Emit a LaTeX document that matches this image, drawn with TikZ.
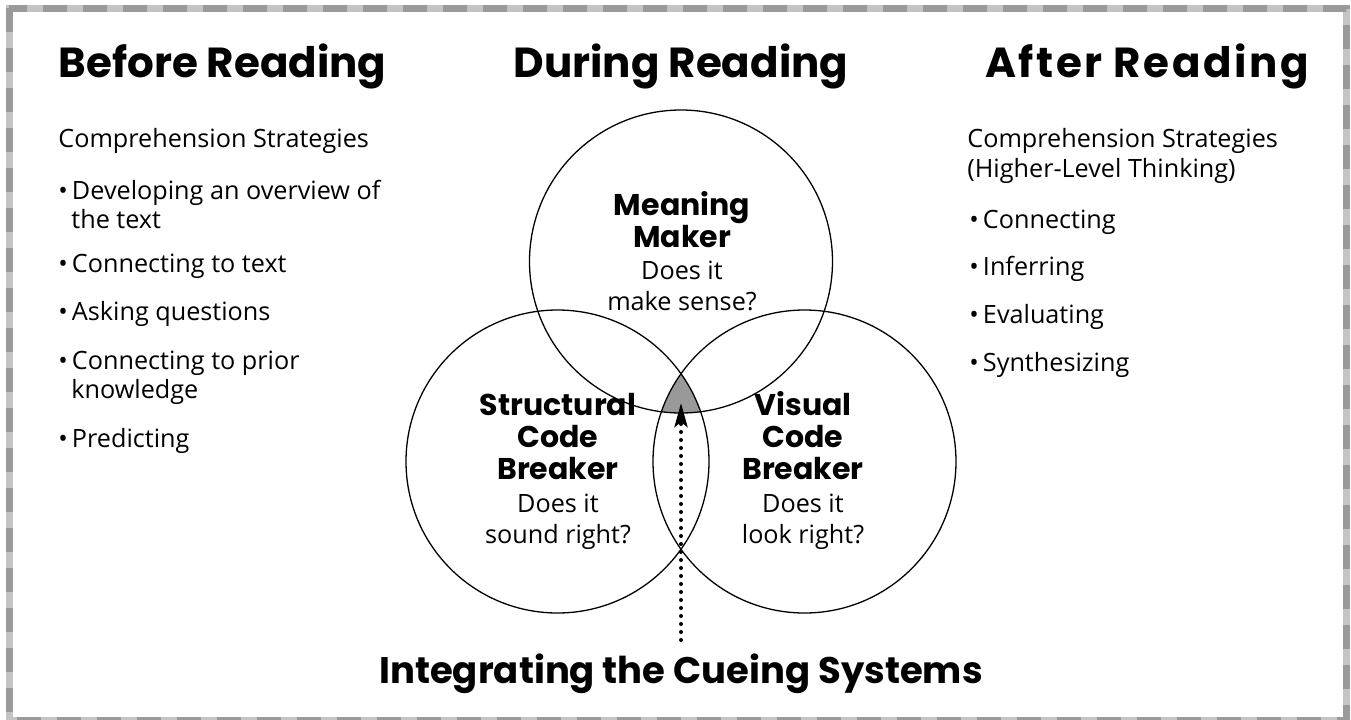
\documentclass[tikz,border=0pt]{standalone}
\usepackage{fontspec}
\setmainfont{Open Sans}
\newfontfamily\headfont{Poppins}
\usetikzlibrary{arrows.meta}

\definecolor{rimdark}{HTML}{9A9A9A}
\definecolor{rimlight}{HTML}{C4C4C4}
\definecolor{overlap}{HTML}{999999}

\newcommand\itemdot{\makebox[6.8pt][l]{\textbullet}}

\tikzset{
  heading/.style={anchor=base, inner sep=0pt, font=\headfont\bfseries\fontsize{21}{24}\selectfont},
  cue/.style={anchor=base, inner sep=0pt, font=\headfont\bfseries\fontsize{15}{17}\selectfont},
  body/.style={anchor=base west, inner sep=0pt, font=\fontsize{12.6}{15}\selectfont},
  ask/.style={anchor=base, inner sep=0pt, font=\fontsize{12.6}{15}\selectfont},
  venn/.style={draw, circle, minimum size=151.5pt, inner sep=0pt, line width=0.65pt},
}

\begin{document}
\begin{tikzpicture}[x=0.5pt, y=-0.5pt]
    \useasboundingbox (0,0) rectangle (1351,719);
    % frame
    \draw[rimlight, line width=3.5pt] (9,8) rectangle (1346,720);
    \draw[rimdark, line width=3.5pt, dash pattern=on 12pt off 8pt] (9,8) rectangle (1346,720);

    % shaded core
    \begin{scope}
        \clip (681,261.5) circle (151.5);
        \clip (557.5,461.5) circle (151.5);
        \fill[overlap] (804.5,461.5) circle (151.5);
    \end{scope}

    \draw (681,261.5) node[venn] (meaning) {};
    \draw (557.5,461.5) node[venn] (structural) {};
    \draw (804.5,461.5) node[venn] (visual) {};

    \draw (222.5,77) node[heading] (before) {Before Reading};
    \draw (681,77) node[heading] (during) {During Reading};
    \draw (1147,77) node[heading] (after) {\addfontfeatures{LetterSpace=6}After Reading};

    % before reading
    \draw (58,147) node[body] (bstrat) {Comprehension Strategies};
    \draw (58,199) node[body] (b1) {\itemdot Developing an overview of};
    \draw (71,228) node[body] (b1b) {the text};
    \draw (58,272) node[body] (b2) {\itemdot Connecting to text};
    \draw (58,320) node[body] (b3) {\itemdot Asking questions};
    \draw (58,369) node[body] (b4) {\itemdot Connecting to prior};
    \draw (71,398) node[body] (b4b) {knowledge};
    \draw (58,447) node[body] (b5) {\itemdot Predicting};

    % after reading
    \draw (967,147) node[body] (astrat) {Comprehension Strategies};
    \draw (967,177) node[body] (astrat2) {(Higher-Level Thinking)};
    \draw (969,228) node[body] (a1) {\itemdot Connecting};
    \draw (969,275) node[body] (a2) {\itemdot Inferring};
    \draw (969,323) node[body] (a3) {\itemdot Evaluating};
    \draw (969,371) node[body] (a4) {\itemdot Synthesizing};

    % circle labels
    \draw (682,215) node[cue] (m1) {Meaning};
    \draw (682,247) node[cue] (m2) {Maker};
    \draw (682,279) node[ask] (m3) {Does it};
    \draw (682,310) node[ask] (m4) {make sense?};

    \draw (558,415) node[cue] (s1) {Structural};
    \draw (558,447) node[cue] (s2) {Code};
    \draw (558,479) node[cue] (s3) {Breaker};
    \draw (558,512) node[ask] (s4) {Does it};
    \draw (558,543) node[ask] (s5) {sound right?};

    \draw (803,415) node[cue] (v1) {Visual};
    \draw (803,447) node[cue] (v2) {Code};
    \draw (803,479) node[cue] (v3) {Breaker};
    \draw (803,512) node[ask] (v4) {Does it};
    \draw (803,543) node[ask] (v5) {look right?};

    \draw (681,683.5) node[heading, font=\headfont\bfseries\fontsize{18.5}{22}\selectfont] (integrate) {Integrating the Cueing Systems};

    \coordinate (tail) at (681,640);
    \coordinate (core) at (681,403);
    \draw[line width=2pt, line cap=round, dash pattern=on 0pt off 4pt,
          -{Stealth[length=12pt, width=6.5pt, inset=2.5pt]}] (tail) -- (core);
\end{tikzpicture}
\end{document}
